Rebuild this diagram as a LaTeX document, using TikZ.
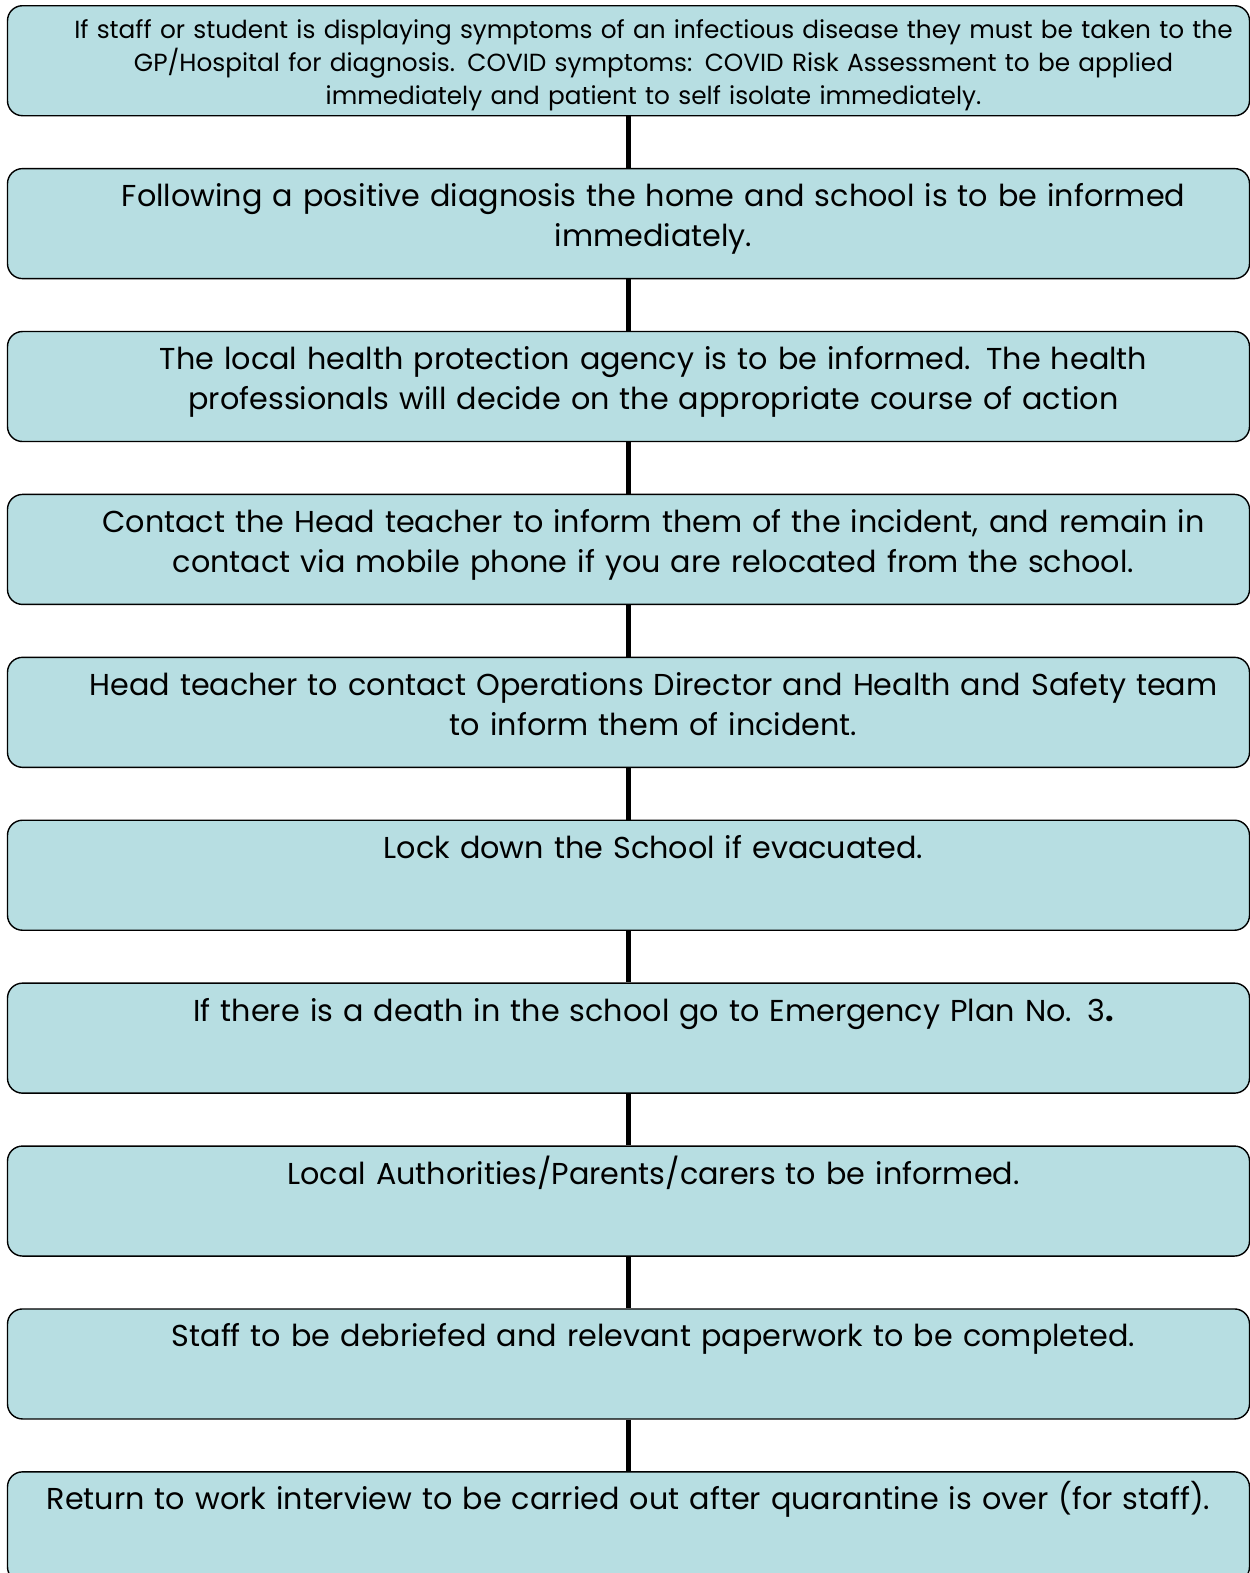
\documentclass[tikz,border=0pt]{standalone}
\usepackage{fontspec}
\setmainfont{Poppins}
\usetikzlibrary{positioning}
\definecolor{stepfill}{RGB}{183,222,226}

\begin{document}
\begin{tikzpicture}[
    stage/.style={draw, line width=0.8pt, fill=stepfill, rounded corners=0.3cm, inner sep=0pt,
      text width=24.84cm, align=center, text height=0.76cm, text depth=1.44cm,
      font=\fontsize{17.2}{22.8}\selectfont,
      execute at begin node={\leftskip=1cm plus 1fil\rightskip=0pt plus 1fil\parfillskip=0pt\relax}},
    first/.style={text height=0.66cm, text depth=1.54cm, font=\fontsize{14.1}{18.8}\selectfont},
    noshift/.style={execute at begin node={\leftskip=0pt plus 1fil\relax}},
    link/.style={line width=2.4pt}
  ]

  \useasboundingbox (0,0) rectangle (25,-31.46);

  \node[stage, first, anchor=north] (b1) at (12.57,-0.1) {If staff or student is displaying symptoms of an infectious disease they must be taken to the\\ GP/Hospital for diagnosis. COVID symptoms: COVID Risk Assessment to be applied\\ immediately and patient to self isolate immediately.};
  \node[stage, below=1.03cm of b1] (b2) {Following a positive diagnosis the home and school is to be informed\\ immediately.};
  \node[stage, below=1.03cm of b2] (b3) {The local health protection agency is to be informed. The health\\ professionals will decide on the appropriate course of action};
  \node[stage, below=1.03cm of b3] (b4) {Contact the Head teacher to inform them of the incident, and remain in\\ contact via mobile phone if you are relocated from the school.};
  \node[stage, below=1.03cm of b4] (b5) {Head teacher to contact Operations Director and Health and Safety team\\ to inform them of incident.};
  \node[stage, below=1.03cm of b5] (b6) {Lock down the School if evacuated.};
  \node[stage, below=1.03cm of b6] (b7) {If there is a death in the school go to Emergency Plan No. 3\textbf{.}};
  \node[stage, below=1.03cm of b7] (b8) {Local Authorities/Parents/carers to be informed.};
  \node[stage, below=1.03cm of b8] (b9) {Staff to be debriefed and relevant paperwork to be completed.};
  \node[stage, noshift, below=1.03cm of b9] (b10) {Return to work interview to be carried out after quarantine is over (for staff).};

  \foreach \i [count=\j from 2] in {1,...,9} {
      \draw[link] (b\i.south) -- (b\j.north);
    }

\end{tikzpicture}
\end{document}
